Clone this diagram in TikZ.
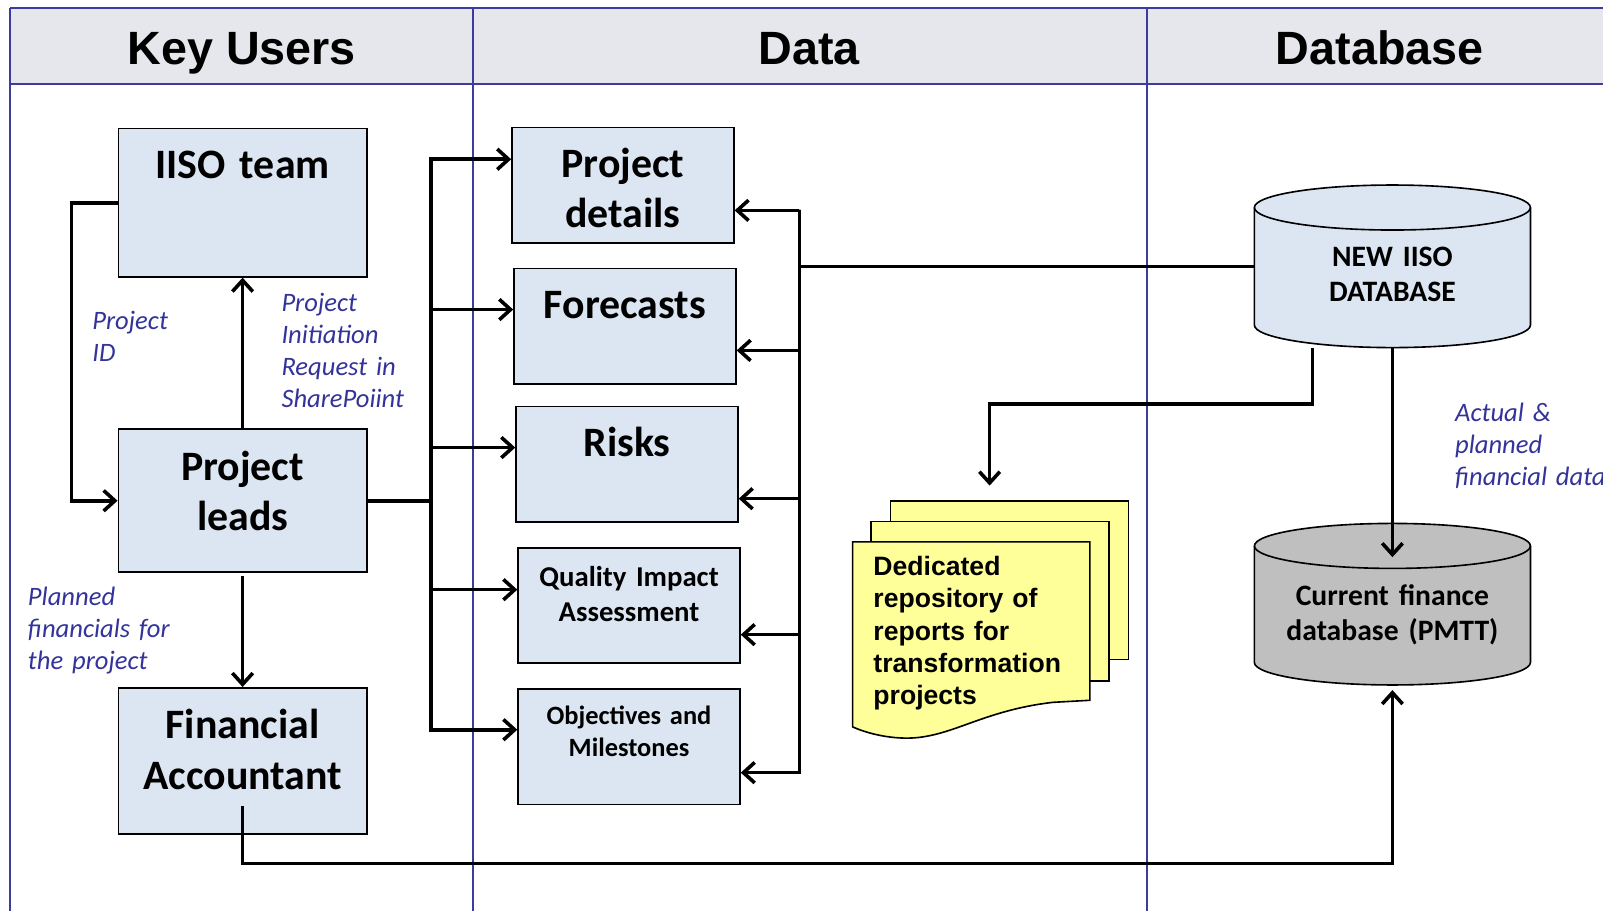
\documentclass[tikz,border=0pt]{standalone}
\usepackage{fontspec}
\setmainfont{Carlito}
\newfontfamily\arialfont{Liberation Sans}
\usetikzlibrary{arrows.meta,backgrounds}

\definecolor{hdrgray}{HTML}{E6E7EC}
\definecolor{laneblue}{HTML}{3C3CA0}
\definecolor{boxblue}{HTML}{DCE6F2}
\definecolor{dbgray}{HTML}{BFBFBF}
\definecolor{noteyellow}{HTML}{FFFF99}
\definecolor{notetext}{HTML}{33339A}

\begin{document}
\begin{tikzpicture}[
  lane/.style={draw=laneblue,line width=1.1pt},
  hdr/.style={anchor=base,font=\arialfont\bfseries\fontsize{26}{30}\selectfont},
  userbox/.style={draw,line width=0.9pt,fill=boxblue,inner sep=0pt,anchor=north west,
    text width=4.86cm,align=center,font=\bfseries\fontsize{23.3}{28}\selectfont},
  databox/.style={userbox,text width=4.34cm},
  dbbody/.style={inner sep=0pt,outer sep=0pt,anchor=north,text width=5.4cm,align=center,
    text height=1.16cm,text depth=1.14cm,font=\bfseries\fontsize{16.5}{19.4}\selectfont},
  dbline/.style={line width=0.9pt},
  note/.style={text=notetext,anchor=base west,align=left,inner sep=0pt,
    font=\itshape\fontsize{14.8}{17.8}\selectfont},
  conn/.style={line width=2pt},
  arr/.style={conn,-{Straight Barb[length=2.2mm,width=4mm]}},
  sheet/.style={draw,line width=0.9pt,fill=noteyellow}
]
\useasboundingbox (0,0) rectangle (31.36,-17.82);

% lanes and headers:
\fill[hdrgray] (0.2,-0.16) rectangle (31.36,-1.64);
\draw[lane] (0.2,-0.16) -- (31.36,-0.16);
\draw[lane] (0.2,-1.64) -- (31.36,-1.64);
\draw[lane] (0.2,-0.16) -- (0.2,-17.82);
\draw[lane] (9.26,-0.16) -- (9.26,-17.82);
\draw[lane] (22.44,-0.16) -- (22.44,-17.82);

\node[hdr] (hkey) at (4.73,-1.27) {Key Users};
\node[hdr] (hdata) at (15.83,-1.27) {Data};
\node[hdr] (hdb) at (26.99,-1.27) {Database};

% key users:
\node[userbox,text height=0.98cm,text depth=1.92cm] (iiso) at (2.3,-2.5) {IISO team};
\node[userbox,text height=1.0cm,text depth=1.8cm] (leads) at (2.3,-8.38) {Project\\leads};
\node[userbox,text height=1.0cm,text depth=1.86cm] (fin) at (2.3,-13.44) {Financial\\Accountant};

% data:
\node[databox,text height=0.98cm,text depth=1.28cm] (pdet) at (10.0,-2.48) {Project\\details};
\node[databox,text height=0.98cm,text depth=1.28cm] (fcst) at (10.04,-5.24) {Forecasts};
\node[databox,text height=0.98cm,text depth=1.28cm] (risk) at (10.08,-7.94) {Risks};
\node[databox,text height=0.76cm,text depth=1.5cm,font=\bfseries\fontsize{16}{19.4}\selectfont] (qia) at (10.12,-10.7) {Quality Impact\\Assessment};
\node[databox,text height=0.7cm,text depth=1.56cm,font=\bfseries\fontsize{14.7}{17.6}\selectfont] (obj) at (10.12,-13.46) {Objectives and\\Milestones};

% reports (three sheets):
\draw[sheet] (17.42,-9.8) rectangle (22.08,-12.9);
\draw[sheet] (17.04,-10.2) rectangle (21.7,-13.32);
\draw[sheet] (16.68,-10.6) -- (21.32,-10.6) -- (21.32,-13.7) -- (20.6,-13.74)
  .. controls (19.2,-13.9) and (18.6,-14.44) .. (17.74,-14.44)
  .. controls (17.3,-14.44) and (16.9,-14.32) .. (16.68,-14.22) -- cycle;
\node[anchor=base west,inner sep=0pt,text width=4.3cm,align=left,
  font=\arialfont\bfseries\fontsize{14.8}{18}\selectfont] (repo) at (17.08,-11.26)
  {Dedicated\\repository of\\reports for\\transformation\\projects};
\coordinate (repotop) at (19.36,-9.5);

% databases (body node, cylinder drawn behind):
\node[dbbody] (newdb) at (27.24,-4.06) {NEW IISO\\DATABASE};
\node[dbbody,text depth=1.12cm] (pmtt) at (27.24,-10.68) {Current finance\\database (PMTT)};
\begin{scope}[on background layer]
\foreach \n/\c in {newdb/boxblue,pmtt/dbgray}{
  \filldraw[dbline,fill=\c] (\n.north west) -- (\n.south west)
    arc[start angle=180,end angle=360,x radius=2.7cm,y radius=0.44cm]
    -- (\n.north east) arc[start angle=0,end angle=180,x radius=2.7cm,y radius=0.44cm] -- cycle;
  \draw[dbline] (\n.north east) arc[start angle=0,end angle=-180,x radius=2.7cm,y radius=0.44cm];
}
\end{scope}

% connectors:
\draw[arr] (iiso.west) -- ++(-0.9,0) |- (leads.west);
\draw[arr] (leads.north) -- (iiso.south);
\draw[arr] ([yshift=-0.06cm]leads.south) -- (fin.north);

\foreach \b/\dy in {pdet/0.51,fcst/0.33,risk/0.33,qia/0.31,obj/0.33}
  \draw[arr] (leads.east) -- ++(1.24,0) |- ([yshift=\dy cm]\b.west);

\coordinate (rbus) at (15.64,-4.1);
\foreach \b/\dy in {pdet/-0.49,fcst/-0.47,risk/-0.67,qia/-0.57,obj/-0.51}
  \draw[arr] (rbus) |- ([yshift=\dy cm]\b.east);
\draw[conn] (newdb.west) -- (rbus |- newdb.west);

\draw[arr] ([xshift=-1.56cm,yshift=-0.44cm]newdb.south) -- ++(0,-1.1) -| (repotop);
\draw[arr] ([yshift=-0.44cm]newdb.south) -- ([yshift=-0.22cm]pmtt.north);
\draw[arr] ([yshift=0.56cm]fin.south) -- ++(0,-1.12) -| ([yshift=-0.54cm]pmtt.south);

% labels:
\node[note,text width=2cm] (lid) at (1.8,-6.44) {Project\\ID};
\node[note,text width=3cm] (lpir) at (5.5,-6.1) {Project\\Initiation\\Request in\\SharePoiint};
\node[note,text width=3.2cm] (lplan) at (0.54,-11.84) {Planned\\financials for\\the project};
\node[note,text width=3.5cm] (lact) at (28.46,-8.24) {Actual \&\\planned\\financial data};

\end{tikzpicture}
\end{document}
